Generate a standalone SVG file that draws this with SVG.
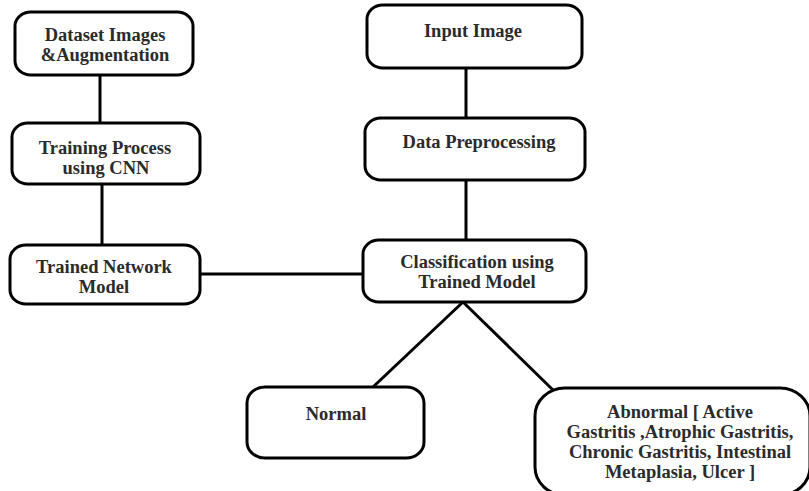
<svg xmlns="http://www.w3.org/2000/svg" width="809" height="491" viewBox="0 0 809 491">
<style>
.box{fill:#fff;stroke:#000;stroke-width:3}
.t{font-family:"Liberation Serif","Times New Roman",serif;font-weight:bold;font-size:18.5px;fill:#2b2b2b;text-anchor:middle}
.c{stroke:#000;stroke-width:3;fill:none}
</style>
<rect width="809" height="491" fill="#fff"/>
<g id="connectors">
<line class="c" x1="100" y1="75" x2="100" y2="123"/>
<line class="c" x1="102" y1="184" x2="102" y2="245"/>
<line class="c" x1="466" y1="68" x2="466" y2="118"/>
<line class="c" x1="466" y1="180" x2="466" y2="240"/>
<line class="c" x1="200" y1="274" x2="363" y2="274"/>
<line class="c" x1="463" y1="302" x2="373" y2="387"/>
<line class="c" x1="463" y1="302" x2="553" y2="390"/>
</g>
<g id="dataset">
<rect class="box" x="15" y="12" width="178" height="63" rx="16" ry="14"/>
<text class="t" x="105" y="41">Dataset Images</text>
<text class="t" x="105" y="61">&amp;Augmentation</text>
</g>
<g id="training">
<rect class="box" x="12" y="123" width="188" height="61" rx="16" ry="14"/>
<text class="t" x="105" y="154">Training Process</text>
<text class="t" x="106" y="174">using CNN</text>
</g>
<g id="trained">
<rect class="box" x="10" y="245" width="190" height="59" rx="16" ry="14"/>
<text class="t" x="104" y="273">Trained Network</text>
<text class="t" x="104" y="293">Model</text>
</g>
<g id="input">
<rect class="box" x="367" y="5" width="215" height="63" rx="16" ry="14"/>
<text class="t" x="473" y="37">Input Image</text>
</g>
<g id="preproc">
<rect class="box" x="365" y="118" width="220" height="62" rx="16" ry="14"/>
<text class="t" x="479" y="148">Data Preprocessing</text>
</g>
<g id="classification">
<rect class="box" x="363" y="240" width="223" height="62" rx="16" ry="14"/>
<text class="t" x="477" y="268">Classification using</text>
<text class="t" x="477" y="288">Trained Model</text>
</g>
<g id="normal">
<rect class="box" x="247" y="387" width="177" height="71" rx="18" ry="16"/>
<text class="t" x="336" y="420">Normal</text>
</g>
<g id="abnormal">
<rect class="box" x="535" y="388" width="275" height="107" rx="30" ry="28"/>
<text class="t" x="680" y="418">Abnormal [ Active</text>
<text class="t" x="680" y="438">Gastritis ,Atrophic Gastritis,</text>
<text class="t" x="680" y="458">Chronic Gastritis, Intestinal</text>
<text class="t" x="680" y="478">Metaplasia, Ulcer ]</text>
</g>
</svg>
